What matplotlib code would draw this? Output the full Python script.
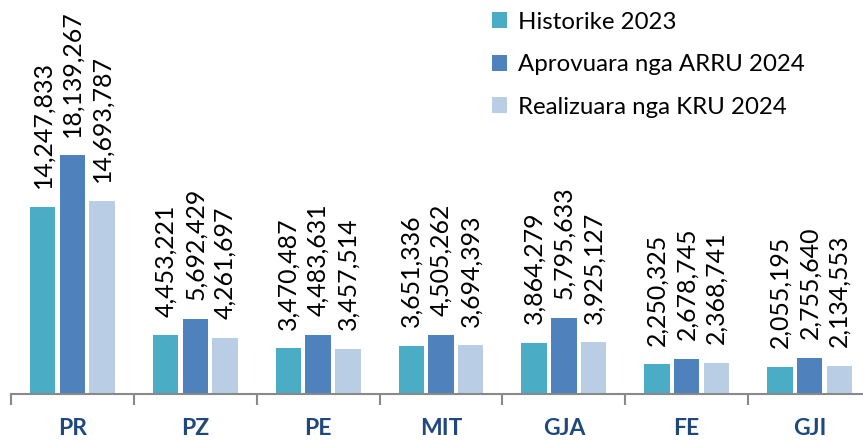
import matplotlib.pyplot as plt
import numpy as np

plt.rcParams['font.family'] = ['Lato', 'DejaVu Sans']

categories = ['PR', 'PZ', 'PE', 'MIT', 'GJA', 'FE', 'GJI']
series_names = ['Historike 2023', 'Aprovuara nga ARRU 2024', 'Realizuara nga KRU 2024']
historike = [14247833, 4453221, 3470487, 3651336, 3864279, 2250325, 2055195]
aprovuara = [18139267, 5692429, 4483631, 4505262, 5795633, 2678745, 2755640]
realizuara = [14693787, 4261697, 3457514, 3694393, 3925127, 2368741, 2134553]
colors = ['#4BACC6', '#4F81BD', '#B9CDE5']

fig = plt.figure(figsize=(8.63, 4.40), dpi=100)
# axes a bit wider than the figure: last group is cut off on the right
ax = fig.add_axes([11 / 863, 46 / 440, 860 / 863, 394 / 440])

x = np.arange(len(categories))
bw = 0.207
pitch = 0.242
for k, (vals, name, c) in enumerate(zip([historike, aprovuara, realizuara], series_names, colors)):
    pos = x + (k - 1) * pitch
    ax.bar(pos, vals, width=bw, color=c, label=name, zorder=2)
    for px, v in zip(pos, vals):
        ax.annotate(f'{v:,}', (px, v), xytext=(0, 13.5), textcoords='offset points',
                    rotation=90, ha='center', va='bottom', fontsize=17.9, color='black')

ax.set_xlim(-0.5, len(categories) - 0.5)
ax.set_ylim(0, 29.96e6)

for s in ['top', 'right', 'left']:
    ax.spines[s].set_visible(False)
ax.spines['bottom'].set_color('#898989')
ax.spines['bottom'].set_linewidth(1.5)
ax.set_yticks([])

# tick marks between groups, labels at group centres
ax.set_xticks(np.arange(len(categories) + 1) - 0.5)
ax.set_xticklabels([])
ax.tick_params(axis='x', length=8, width=1.5, color='#898989', direction='out')
for xi, cat in zip(x, categories):
    ax.text(xi, -2.6e6, cat, ha='center', va='center', fontsize=16.5, fontweight='bold',
            color='#1F497D')

leg = ax.legend(loc='upper left', bbox_to_anchor=(471 / 860, 0.995), frameon=False,
                fontsize=17.3, handlelength=0.65, handleheight=0.65, handletextpad=0.45,
                labelspacing=0.9, borderaxespad=0)

fig.savefig('out.png', dpi=100)
